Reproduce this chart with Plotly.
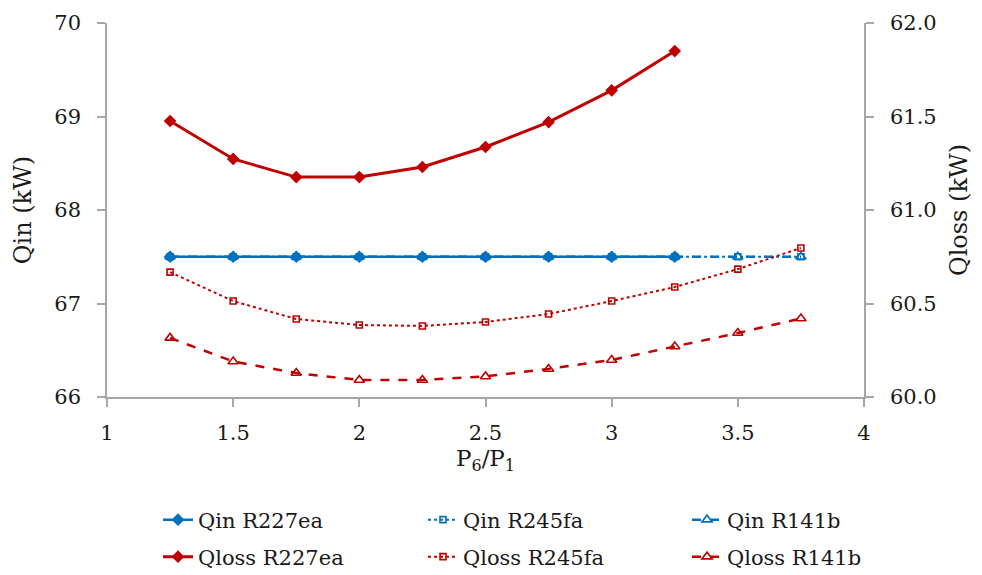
import plotly.graph_objects as go

ratio_a = [1.25, 1.5, 1.75, 2.0, 2.25, 2.5, 2.75, 3.0, 3.25]
ratio_b = [1.25, 1.5, 1.75, 2.0, 2.25, 2.5, 2.75, 3.0, 3.25, 3.5, 3.75]

qin_r227ea = [67.5] * 9
qin_r245fa = [67.5] * 11
qin_r141b = [67.5] * 11

qloss_r227ea = [61.476, 61.273, 61.176, 61.176, 61.23, 61.337, 61.47, 61.64, 61.85]
qloss_r245fa = [60.668, 60.513, 60.417, 60.385, 60.380, 60.401, 60.444, 60.513, 60.588, 60.684, 60.797]
qloss_r141b = [60.316, 60.19, 60.128, 60.091, 60.091, 60.11, 60.15, 60.198, 60.27, 60.342, 60.42]

x_ticks = [1, 1.5, 2, 2.5, 3, 3.5, 4]
x_labels = ["1", "1.5", "2", "2.5", "3", "3.5", "4"]
y_ticks = [66, 67, 68, 69, 70]
y2_ticks = [60.0, 60.5, 61.0, 61.5, 62.0]

BLUE = "#0070C0"
RED = "#C00000"
AXIS = "#A6A6A6"
FONT = "DejaVu Serif"
TXT = "#1a1a1a"

W, H = 982, 575

# legend slot positions (container px): column lefts, row centers
LEG_COLS = [158, 423, 687]
LEG_ROWS = [520, 557]

fig = go.Figure()

def add(name, x, y, color, dash, symbol, size, width, axis, legend):
    fig.add_trace(go.Scatter(
        x=x, y=y, name=name, mode="lines+markers", yaxis=axis, legend=legend,
        line=dict(color=color, dash=dash, width=width),
        marker=dict(symbol=symbol, size=size, color=color,
                    line=dict(color=color, width=1.6)),
    ))

add("Qin R227ea", ratio_a, qin_r227ea, BLUE, "solid", "diamond", 8, 2.5, "y", "legend")
add("Qin R245fa", ratio_b, qin_r245fa, BLUE, "dot", "square-open", 6, 2, "y", "legend2")
add("Qin R141b", ratio_b, qin_r141b, BLUE, "dash", "triangle-up-open", 9, 2.5, "y", "legend3")
add("Qloss R227ea", ratio_a, qloss_r227ea, RED, "solid", "diamond", 8, 3, "y2", "legend4")
add("Qloss R245fa", ratio_b, qloss_r245fa, RED, "dot", "square-open", 6, 2, "y2", "legend5")
add("Qloss R141b", ratio_b, qloss_r141b, RED, "dash", "triangle-up-open", 9, 2.5, "y2", "legend6")

axis_common = dict(showline=True, linecolor=AXIS, linewidth=1.5, ticks="outside",
                   ticklen=8, tickcolor=AXIS, tickwidth=1.5, showgrid=False,
                   zeroline=False, automargin=False,
                   tickfont=dict(family=FONT, size=21, color=TXT))

def legend_at(col, row):
    return dict(orientation="h", xref="container", yref="container",
                xanchor="left", x=LEG_COLS[col] / W, yanchor="middle", y=1 - LEG_ROWS[row] / H,
                font=dict(family=FONT, size=21, color=TXT), bgcolor="rgba(0,0,0,0)")

fig.update_layout(
    width=W, height=H,
    margin=dict(l=107, r=118, t=23, b=178),
    paper_bgcolor="white", plot_bgcolor="white",
    font=dict(family=FONT, color=TXT),
    xaxis=dict(range=[1, 4], tickvals=x_ticks, ticktext=x_labels,
               title=dict(text="P<sub>6</sub>/P<sub>1</sub>", font=dict(family=FONT, size=23, color=TXT), standoff=6),
               ticklabelstandoff=8, **axis_common),
    yaxis=dict(range=[66, 70], tickvals=y_ticks,
               title=dict(text="Qin (kW)", font=dict(family=FONT, size=24, color=TXT), standoff=16),
               ticklabelstandoff=12, **axis_common),
    yaxis2=dict(range=[60, 62], tickvals=y2_ticks, tickformat=".1f", overlaying="y", side="right",
                title=dict(text="Qloss (kW)", font=dict(family=FONT, size=24, color=TXT), standoff=14),
                ticklabelstandoff=12, **axis_common),
    legend=legend_at(0, 0),
    legend2=legend_at(1, 0),
    legend3=legend_at(2, 0),
    legend4=legend_at(0, 1),
    legend5=legend_at(1, 1),
    legend6=legend_at(2, 1),
    showlegend=True,
)

fig.write_html("out.html", config={"displayModeBar": False},
               post_script="document.body.style.margin='0px';")
